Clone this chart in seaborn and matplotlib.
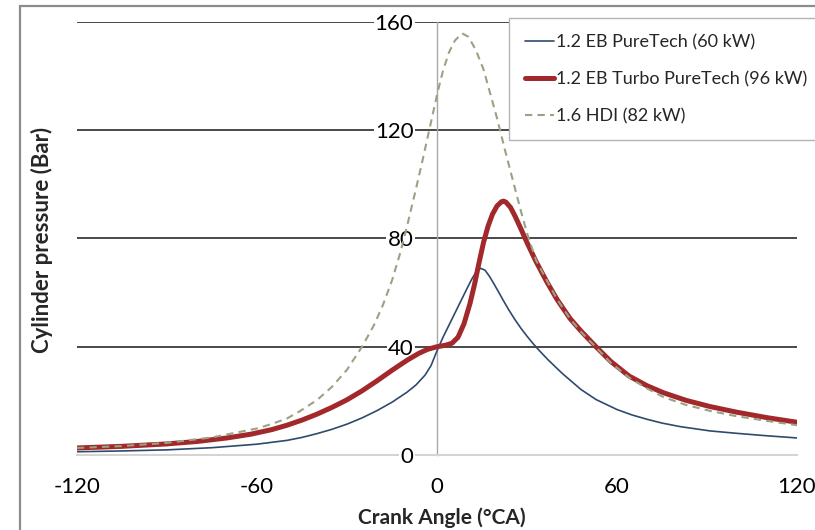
import matplotlib
matplotlib.use("Agg")
import matplotlib.pyplot as plt
import seaborn as sns
from matplotlib.patches import Rectangle

# ---------------- data ----------------
blue_label = "1.2 EB PureTech (60 kW)"
blue_angle = [-120, -105, -90, -75, -60, -50, -45, -40, -35, -30, -25, -20, -15, -10, -7, -4, -2, 0,
              2, 4, 6, 8, 10, 11.5, 13, 14.5, 16, 17.5, 19, 20.5, 22, 24, 26, 28, 30, 32, 34, 37,
              40, 42, 44, 48, 53, 60, 65, 70, 75, 81, 91, 100, 110, 120]
blue_p = [1.2, 1.5, 1.9, 2.7, 4.0, 5.4, 6.5, 7.9, 9.5, 11.4, 13.7, 16.4, 19.5, 23.2, 25.9, 29.5, 33,
          38.5, 43.5, 48, 52.5, 57, 61.5, 64.8, 67.6, 69, 68.3, 66, 63.2, 60.3, 57.3, 53.5, 50.0,
          46.8, 43.9, 41.2, 38.7, 35.2, 32, 29.9, 28, 24.2, 20.5, 16.8, 14.8, 13.2, 11.8, 10.5,
          8.9, 8.0, 7.1, 6.3]

red_label = "1.2 EB Turbo PureTech (96 kW)"
red_angle = [-120, -105, -90, -80, -70, -62, -55, -50, -45, -40, -35, -30, -25, -20, -15, -10, -6,
             -3, 0, 3, 5, 7, 9, 11, 12.5, 14, 15.5, 17, 18.5, 20, 21.5, 22.2, 23, 24.5, 26, 28, 30,
             33, 36.6, 40, 44.3, 48, 53, 58, 64, 70, 75.5, 83, 91, 100, 110, 120]
red_p = [2.6, 3.2, 4.1, 5.0, 6.3, 7.7, 9.4, 11.0, 12.9, 15.1, 17.6, 20.4, 23.7, 27.4, 31.3, 35.0,
         37.6, 39.1, 40, 40.6, 41.3, 43.5, 48.5, 56, 63, 71, 78.5, 84.5, 89, 92, 93.6, 93.8, 93.4,
         91.5, 88.3, 83.5, 78.5, 71.5, 64, 57.5, 50.5, 45.8, 40, 34.5, 29.2, 25.6, 23.0, 20.2,
         17.9, 15.8, 13.8, 12.1]

hdi_label = "1.6 HDI (82 kW)"
hdi_angle = [-120, -105, -90, -75, -60, -55, -50, -45.7, -40, -35, -30, -25, -21, -18, -15, -12.3,
             -10, -7.3, -5, -3.4, -1.5, 0.3, 2, 4, 6, 8.4, 10.5, 13, 15.5, 18, 20, 22.7, 25.4, 28,
             30, 33, 36.6, 40, 44.3, 48, 53, 58, 64.3, 70, 75.5, 83, 91, 100, 110, 120]
hdi_p = [2.6, 3.3, 4.5, 6.5, 9.8, 11.5, 13.5, 16.2, 20.3, 25.2, 31.5, 40, 48, 55.5, 64.5, 74.5,
         84.5, 97, 108, 116, 125.5, 134.5, 142, 148.8, 153.2, 155.8, 154.5, 149.5, 142.5, 132.5,
         124.5, 112.5, 101, 90, 82, 72, 64.5, 57.6, 50.4, 45.5, 39.8, 34, 28.4, 24.6, 21.4, 18.5,
         16.3, 14.3, 12.6, 11]

x_ticks = [-120, -60, 0, 60, 120]
y_ticks = [0, 40, 80, 120, 160]
grid_levels = [40, 80, 120, 160]
x_title = "Crank Angle (°CA)"
y_title = "Cylinder pressure (Bar)"

# ---------------- style ----------------
sns.set_style("white")
plt.rcParams["font.family"] = ["Lato", "DejaVu Sans"]

W, H = 815, 530
fig = plt.figure(figsize=(W / 100, H / 100), dpi=100)
fig.patch.set_facecolor("white")
ax = fig.add_axes([77 / W, 75 / H, 720 / W, 433 / H])
ax.set_facecolor("white")
ax.set_axisbelow(False)

# horizontal reference lines
ax.hlines(grid_levels, x_ticks[0], x_ticks[-1], colors="#3a3a3a", lw=1.3, zorder=1)

# curves
sns.lineplot(x=blue_angle, y=blue_p, ax=ax, color="#2f4b6c", lw=1.2, label=blue_label, zorder=3)
sns.lineplot(x=red_angle, y=red_p, ax=ax, color="#a2282b", lw=3.6, label=red_label, zorder=4)
sns.lineplot(x=hdi_angle, y=hdi_p, ax=ax, color="#9aa284", lw=1.5,
             linestyle=(0, (3.5, 2.5)), label=hdi_label, zorder=5)

handles, labels = ax.get_legend_handles_labels()
if ax.get_legend() is not None:
    ax.get_legend().remove()

ax.set_xlim(x_ticks[0], x_ticks[-1])
ax.set_ylim(y_ticks[0], y_ticks[-1])

# spines: y axis at x = 0, x axis at y = 0
for s in ["top", "right"]:
    ax.spines[s].set_visible(False)
ax.spines["left"].set_position(("data", 0))
ax.spines["left"].set_color("#a8a8a8")
ax.spines["left"].set_linewidth(1.0)
ax.spines["bottom"].set_color("#d4d4d4")
ax.spines["bottom"].set_linewidth(1.5)

ax.set_xticks(x_ticks)
ax.set_xticklabels([str(v) for v in x_ticks])
ax.set_yticks(y_ticks)
ax.set_yticklabels([str(v) for v in y_ticks])
ax.tick_params(axis="x", direction="out", length=5, width=1, color="#c8c8c8",
               labelsize=16, labelcolor="black", pad=11)
ax.tick_params(axis="y", length=0, labelsize=16, labelcolor="black", pad=17)
for lbl in ax.get_yticklabels():
    lbl.set_bbox(dict(facecolor="white", edgecolor="none", pad=0.8))

ax.set_xlabel("")
ax.set_ylabel("")
fig.text(442 / W, 1 - 518 / H, x_title, ha="center", va="center",
         fontsize=15, fontweight="bold")
fig.text(42 / W, 1 - 240 / H, y_title, ha="center", va="center", rotation=90,
         fontsize=16, fontweight="bold")

# legend
leg = fig.legend(handles, labels, loc="upper left",
                 bbox_to_anchor=(509 / W, 1 - 134 / H, 0.45, 116 / H),
                 mode="expand", fontsize=13, frameon=True, fancybox=False,
                 handlelength=1.6, handletextpad=0.1, labelspacing=1.15,
                 borderpad=0.9, borderaxespad=0)
leg.get_frame().set_edgecolor("#b4b4b4")
leg.get_frame().set_linewidth(1.0)
leg.get_frame().set_facecolor("white")
leg.get_frame().set_alpha(1)

# outer frame of the picture
fig.add_artist(Rectangle((20 / W, -0.1), 1.2, 1.1 - 6 / H, transform=fig.transFigure,
                         fill=False, edgecolor="#8c8c8c", lw=1.6, clip_on=False))

fig.savefig("out.png", dpi=100, facecolor="white")
